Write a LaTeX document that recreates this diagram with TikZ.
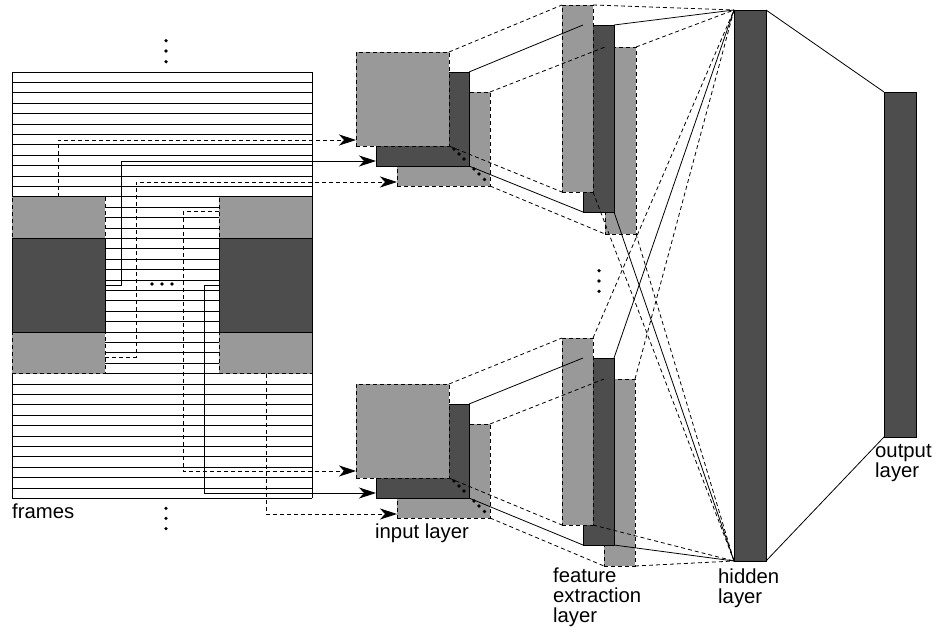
\documentclass[tikz,border=0pt]{standalone}
\usepackage{fontspec}
\setmainfont{Liberation Sans}
\usetikzlibrary{arrows.meta,calc}
\definecolor{lgray}{RGB}{153,153,153}
\definecolor{dgray}{RGB}{77,77,77}
\tikzset{
  lbl/.style={font=\fontsize{20.3pt}{20pt}\selectfont, inner sep=0pt, anchor=base west},
  dsh/.style={dash pattern=on 4pt off 3pt},
  lightbox/.style={fill=lgray, draw=black, dsh, line width=0.8pt, inner sep=0pt, outer sep=0pt, anchor=north west},
  darkbox/.style={fill=dgray, draw=black, line width=0.8pt, inner sep=0pt, outer sep=0pt, anchor=north west},
  insize/.style={minimum width=93pt, minimum height=94pt},
  fesize/.style={minimum width=31pt, minimum height=187pt},
  conn/.style={line width=0.8pt},
  arr/.style={conn, -{Stealth[length=17pt,width=11pt,inset=5pt]}},
  dotm/.style={fill=black}
}
\begin{document}
\begin{tikzpicture}[x=1pt,y=-1pt]
\useasboundingbox (0,0) rectangle (937,629);
% frames
\foreach \k in {0,...,41}{\draw[line width=0.8pt] (12,{72+\k*10.4}) -- (312,{72+\k*10.4});}
\draw[line width=0.8pt] (12,72) -- (12,498.4) (312,72) -- (312,498.4);
% blocks in frames
\node[lightbox, minimum width=93pt, minimum height=176.8pt] (lL) at (12,196.8) {};
\node[darkbox, minimum width=93pt, minimum height=93.6pt] (lD) at (12,238.4) {};
\node[lightbox, minimum width=93pt, minimum height=176.8pt] (rL) at (219,196.8) {};
\node[darkbox, minimum width=93pt, minimum height=93.6pt] (rD) at (219,238.4) {};
% dots
\foreach \y in {40.7,51,61.7,508.3,518.3,528.6}{\fill[dotm] (166,\y) circle (1.8pt);}
\foreach \x in {152,162,172}{\fill[dotm] (\x,284) circle (1.8pt);}
\foreach \y in {270.7,281,291.3}{\fill[dotm] (599,\y) circle (1.8pt);}
% input layer, upper
\node[lightbox, insize] (inB1) at (397,92) {};
\node[darkbox, insize] (inD1) at (376,72) {};
\node[lightbox, insize] (inF1) at (356,52) {};
% input layer, lower
\node[lightbox, insize] (inB2) at (397,424) {};
\node[darkbox, insize] (inD2) at (376,404) {};
\node[lightbox, insize] (inF2) at (356,384) {};
\foreach \d in {0,332}{
  \foreach \p in {0,5,10,20,25,30.5}{\fill[dotm] (454+\p,149+\d+\p) circle (1.8pt);}
}
% feature extraction layer
\node[lightbox, fesize] (feB1) at (605,47) {};
\node[darkbox, fesize] (feD1) at (583,25) {};
\node[lightbox, fesize] (feF1) at (562,5) {};
\node[lightbox, fesize] (feB2) at (604,379) {};
\node[darkbox, fesize] (feD2) at (583,358) {};
\node[lightbox, fesize] (feF2) at (562,338) {};
% hidden and output
\node[darkbox, minimum width=32pt, minimum height=551pt] (hid) at (734,10) {};
\node[darkbox, minimum width=32pt, minimum height=345pt] (out) at (884,92) {};
% frames -> input
\draw[arr, dsh] ([xshift=46pt]lL.north west) |- ([yshift=6pt]inF1.south west);
\draw[arr] (lD.east) -- ++(16,0) |- ([yshift=5pt]inD1.south west);
\draw[arr, dsh] ([yshift=16.6pt]lL.south east) -- ++(31,0) |- ([yshift=4pt]inB1.south west);
\draw[arr, dsh] ([yshift=-15pt]rL.north west) -- ++(-36,0) |- ([yshift=7pt]inF2.south west);
\draw[arr] (rD.west) -- ++(-15,0) |- ([yshift=5pt]inD2.south west);
\draw[arr, dsh] ([xshift=47pt]rL.south west) |- ([yshift=4pt]inB2.south west);
% input -> feature
\foreach \i in {1,2}{
  \draw[conn, dsh] (inF\i.north east) -- (feF\i.north west);
  \draw[conn, dsh] (inF\i.south east) -- (feF\i.south west);
  \draw[conn] (inD\i.north east) -- (feD\i.north west);
  \draw[conn] (inD\i.south east) -- (feD\i.south west);
  \draw[conn, dsh] (inB\i.north east) -- (feB\i.north west);
  \draw[conn, dsh] (inB\i.south east) -- (feB\i.south west);
  % feature -> hidden
  \draw[conn, dsh] (feF\i.north east) -- (hid.north west);
  \draw[conn, dsh] (feF\i.south east) -- (hid.south west);
  \draw[conn] (feD\i.north east) -- (hid.north west);
  \draw[conn] (feD\i.south east) -- (hid.south west);
  \draw[conn, dsh] (feB\i.north east) -- (hid.north west);
  \draw[conn, dsh] (feB\i.south east) -- (hid.south west);
}
% hidden -> output
\draw[conn] (hid.north east) -- (out.north west);
\draw[conn] (hid.south east) -- (out.south west);
% labels
\node[lbl] (tframes) at (12,518) {frames};
\node[lbl] (tinput) at (375,538) {input layer};
\node[lbl] (tfe1) at (553,582) {feature};
\node[lbl] (tfe2) at (553,602) {extraction};
\node[lbl] (tfe3) at (553,622) {layer};
\node[lbl] (thid1) at (718,583) {hidden};
\node[lbl] (thid2) at (718,603) {layer};
\node[lbl] (tout1) at (875,457) {output};
\node[lbl] (tout2) at (875,477) {layer};
\end{tikzpicture}
\end{document}
